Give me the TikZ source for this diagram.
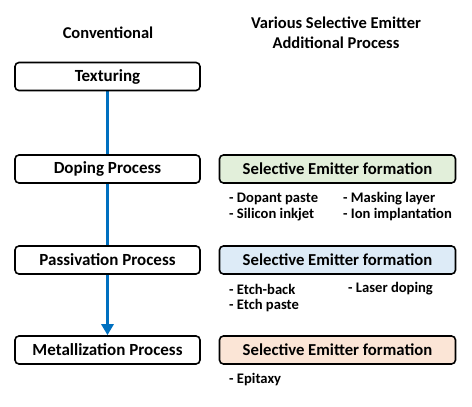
\documentclass[tikz,border=0pt]{standalone}
\usepackage{fontspec}
\setmainfont{Carlito}
\usetikzlibrary{arrows.meta,backgrounds}
\definecolor{flowblue}{HTML}{0070C0}
\definecolor{segreen}{HTML}{E2EFDA}
\definecolor{seblue}{HTML}{DDEBF7}
\definecolor{sepeach}{HTML}{FBE5D6}
\tikzset{
  procbox/.style={draw=black, fill=white, line width=1.6pt, rounded corners=4pt, minimum width=185pt, minimum height=28pt, inner sep=0pt, font=\bfseries\fontsize{17}{19}\selectfont},
  sebox/.style={draw=black, line width=1.6pt, rounded corners=4pt, minimum width=236pt, minimum height=28pt, inner sep=0pt, font=\bfseries\fontsize{16.7}{19}\selectfont},
  head/.style={font=\bfseries\fontsize{16.5}{20}\selectfont, align=center, inner sep=0pt},
  item/.style={font=\bfseries\fontsize{14.6}{17}\selectfont, anchor=west, inner sep=0pt},
  flow/.style={draw=flowblue, line width=3pt, -{Triangle[length=11pt,width=12pt]}}
}
\begin{document}
\begin{tikzpicture}[x=1pt,y=-1pt]
\useasboundingbox (0,0) rectangle (472,407);
\node[head] (conv) at (108,33) {Conventional};
\node[head] (var) at (336,33) {Various Selective Emitter\\Additional Process};
\node[procbox] (tex) at (107.5,76.5) {Texturing};
\node[procbox] (dop) at (107.5,169) {Doping Process};
\node[procbox] (pas) at (107.5,260) {Passivation Process};
\node[procbox] (met) at (107.5,350) {Metallization Process};
\node[sebox, fill=segreen] (se1) at (337.5,169) {Selective Emitter formation};
\node[sebox, fill=seblue] (se2) at (337.5,260) {Selective Emitter formation};
\node[sebox, fill=sepeach] (se3) at (337.5,350) {Selective Emitter formation};
\node[item] (i1) at (229,199) {- Dopant paste};
\node[item] (i2) at (343,199) {- Masking layer};
\node[item] (i3) at (229,215) {- Silicon inkjet};
\node[item] (i4) at (343,215) {- Ion implantation};
\node[item] (i5) at (229,289) {- Etch-back};
\node[item] (i6) at (348,289) {- Laser doping};
\node[item] (i7) at (229,306) {- Etch paste};
\node[item] (i8) at (229,380) {- Epitaxy};
\begin{scope}[on background layer]
\draw[flow] (tex.south) -- (met.north);
\end{scope}
\end{tikzpicture}
\end{document}
